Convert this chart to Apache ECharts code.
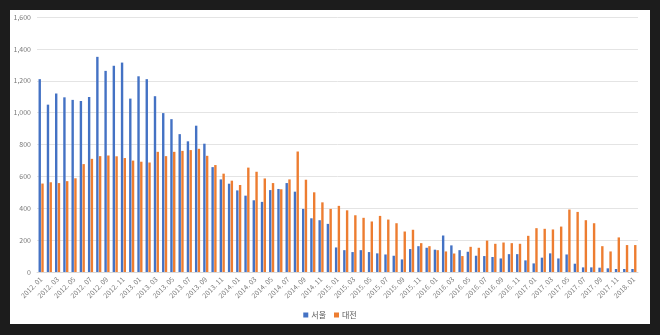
<!DOCTYPE html>
<html>
<head>
<meta charset="utf-8">
<script src="https://cdn.jsdelivr.net/npm/echarts@6/dist/echarts.min.js"></script>
<style>
html,body{margin:0;padding:0;background:#1c1c1c;width:660px;height:335px;overflow:hidden;}
#frame{position:absolute;left:10px;top:10px;width:640px;height:314px;background:#ffffff;}
#chart{width:640px;height:314px;}
</style>
</head>
<body>
<div id="frame"><div id="chart"></div></div>
<script>
const categories = [
"2012. 01","2012. 02","2012. 03","2012. 04","2012. 05","2012. 06","2012. 07","2012. 08","2012. 09","2012. 10","2012. 11","2012. 12",
"2013. 01","2013. 02","2013. 03","2013. 04","2013. 05","2013. 06","2013. 07","2013. 08","2013. 09","2013. 10","2013. 11","2013. 12",
"2014. 01","2014. 02","2014. 03","2014. 04","2014. 05","2014. 06","2014. 07","2014. 08","2014. 09","2014. 10","2014. 11","2014. 12",
"2015. 01","2015. 02","2015. 03","2015. 04","2015. 05","2015. 06","2015. 07","2015. 08","2015. 09","2015. 10","2015. 11","2015. 12",
"2016. 01","2016. 02","2016. 03","2016. 04","2016. 05","2016. 06","2016. 07","2016. 08","2016. 09","2016. 10","2016. 11","2016. 12",
"2017. 01","2017. 02","2017. 03","2017. 04","2017. 05","2017. 06","2017. 07","2017. 08","2017. 09","2017. 10","2017. 11","2017. 12",
"2018. 01"
];
const seoul = [
1210,1050,1120,1096,1080,1073,1098,1350,1262,1294,1314,1088,
1228,1210,1103,997,959,865,820,918,805,658,581,554,
512,479,450,440,514,521,558,504,396,337,325,302,
154,137,125,137,125,117,110,102,79,144,162,152,
140,229,167,137,127,102,100,94,85,112,112,73,
54,90,117,85,110,52,29,29,27,23,19,19,
19
];
const daejeon = [
555,563,558,570,588,677,710,727,731,726,715,699,
692,687,754,727,754,760,765,773,729,671,617,573,
546,655,629,587,558,519,581,756,579,500,437,396,
415,387,356,340,317,352,329,306,254,265,181,162,
137,129,116,100,158,152,197,177,185,181,177,227,
275,271,267,285,392,377,325,306,162,129,217,169,
169
];
const seriesNames = ["서울","대전"];
const yTicks = {min:0, max:1600, step:200};

const chart = echarts.init(document.getElementById('chart'), null, {renderer:'canvas'});
const fontFam = '"Noto Sans CJK KR", "Liberation Sans", sans-serif';
chart.setOption({
  animation:false,
  backgroundColor:'#ffffff',
  grid:{left:27,right:12,top:7,bottom:52,containLabel:false},
  legend:{
    data:seriesNames, top:296, left:'center',
    itemWidth:5, itemHeight:5, itemGap:8, icon:'rect',
    textStyle:{fontSize:8,color:'#595959',fontFamily:fontFam,padding:[0,0,0,-2]}
  },
  xAxis:{
    type:'category', data:categories,
    axisLine:{lineStyle:{color:'#d9d9d9'}},
    axisTick:{show:false},
    axisLabel:{interval:1,rotate:45,fontSize:7,color:'#7a7a7a',fontFamily:fontFam,margin:6}
  },
  yAxis:{
    type:'value', min:yTicks.min, max:yTicks.max, interval:yTicks.step,
    axisLine:{show:false}, axisTick:{show:false},
    splitLine:{lineStyle:{color:'#e4e4e4',width:1}},
    axisLabel:{fontSize:7,color:'#7a7a7a',fontFamily:fontFam,margin:6,
      formatter:v=>v.toLocaleString('en-US')}
  },
  series:[
    {name:seriesNames[0],type:'bar',data:seoul,barWidth:2.4,barGap:'15%',itemStyle:{color:'#4472c4'}},
    {name:seriesNames[1],type:'bar',data:daejeon,barWidth:2.4,itemStyle:{color:'#ed7d31'}}
  ]
});
</script>
</body>
</html>
